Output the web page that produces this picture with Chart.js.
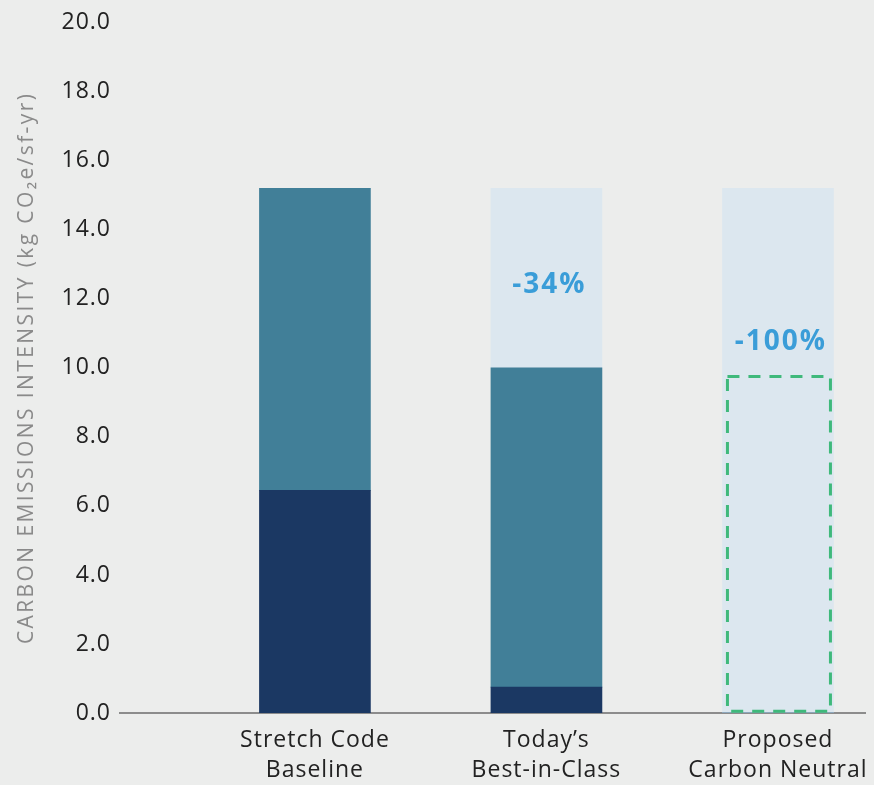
<!DOCTYPE html>
<html>
<head>
<meta charset="utf-8">
<script src="https://cdn.jsdelivr.net/npm/chart.js@4/dist/chart.umd.min.js"></script>
<style>
  html, body { margin: 0; padding: 0; background: #ecedec; overflow: hidden; }
  #wrap { width: 874px; height: 785px; }
</style>
</head>
<body>
<div id="wrap"><canvas id="chart"></canvas></div>
<script>
const categories = [['Stretch Code', 'Baseline'], ['Today\u2019s', 'Best-in-Class'], ['Proposed', 'Carbon Neutral']]
const positions = [1, 2, 3]
const embodied = [6.45, 0.75, 0]
const operational = [8.75, 9.25, 0]
const reduction = [0, 5.2, 15.2]
const targetTop = [null, null, 9.75]
const targetBase = [null, null, 0.05]
const pctLabels = ['', '-34%', '-100%']
const pctLabelY = [null, 12.4, 10.75]
const yTicks = [0, 2, 4, 6, 8, 10, 12, 14, 16, 18, 20]

function points(values) {
    let pts = []
    for (let i = 0; i < positions.length; i++) {
        pts.push({x: positions[i], y: values[i]})
    }
    return pts
}

// the original font is wider than anything installed, so space the letters a bit
const spacing = {
    id: 'spacing',
    beforeDraw(chart) {
        chart.ctx.letterSpacing = '1px'
    },
    afterLayout(chart) {
        const s = chart.scales.y
        if (s && !s._spaced) {
            const orig = s.drawTitle.bind(s)
            s.drawTitle = function () {
                chart.ctx.save()
                chart.ctx.letterSpacing = '2.4px'
                orig()
                chart.ctx.restore()
            }
            s._spaced = true
        }
    },
    afterDraw(chart) {
        chart.ctx.letterSpacing = '0px'
    }
}

const overlay = {
    id: 'overlay',
    afterDatasetsDraw(chart) {
        const ctx = chart.ctx
        const y = chart.scales.y
        const bars = chart.getDatasetMeta(2).data
        ctx.save()
        // dashed target outline
        for (let i = 0; i < bars.length; i++) {
            if (targetTop[i] == null) continue
            const b = bars[i]
            const left = b.x - b.width / 2 + 5
            const right = b.x + b.width / 2 - 3
            const top = y.getPixelForValue(targetTop[i])
            const bottom = y.getPixelForValue(targetBase[i])
            ctx.strokeStyle = '#3fb97b'
            ctx.lineWidth = 3
            ctx.setLineDash([12, 9])
            ctx.strokeRect(left, top, right - left, bottom - top)
        }
        ctx.setLineDash([])
        // percent labels
        ctx.fillStyle = '#3a9dd8'
        ctx.font = 'bold 28px "Open Sans"'
        ctx.letterSpacing = '2px'
        ctx.textAlign = 'center'
        ctx.textBaseline = 'middle'
        for (let i = 0; i < bars.length; i++) {
            if (!pctLabels[i]) continue
            ctx.fillText(pctLabels[i], bars[i].x + 3, y.getPixelForValue(pctLabelY[i]))
        }
        ctx.restore()
    }
}

new Chart(document.getElementById('chart'), {
    type: 'bar',
    data: {
        datasets: [
            {label: 'Embodied', data: points(embodied), backgroundColor: '#1b3863'},
            {label: 'Operational', data: points(operational), backgroundColor: '#417f98'},
            {label: 'Reduction', data: points(reduction), backgroundColor: '#dce7ef'}
        ]
    },
    options: {
        responsive: true,
        maintainAspectRatio: false,
        animation: false,
        barThickness: 111,
        layout: {padding: {top: 8, right: 9, left: 0, bottom: 0}},
        plugins: {
            legend: {display: false},
            tooltip: {enabled: false}
        },
        scales: {
            x: {
                type: 'linear',
                stacked: true,
                offset: false,
                bounds: 'ticks',
                min: 0.158,
                max: 3.376,
                afterBuildTicks: (scale) => {
                    scale.ticks = positions.map(v => ({value: v}))
                },
                afterFit: (scale) => { scale.height = 72 },
                grid: {display: false, drawTicks: false},
                border: {display: true, color: '#8c8c8c', width: 2},
                ticks: {
                    autoSkip: false,
                    maxRotation: 0,
                    padding: 12,
                    color: '#222222',
                    font: {family: 'Open Sans', size: 23, lineHeight: 1.33},
                    callback: (v) => categories[positions.indexOf(v)] || ''
                }
            },
            y: {
                stacked: true,
                min: 0,
                max: 20,
                afterBuildTicks: (scale) => {
                    scale.ticks = yTicks.map(v => ({value: v}))
                },
                afterFit: (scale) => { scale.width = 120 },
                grid: {display: false, drawTicks: false},
                border: {display: false},
                ticks: {
                    padding: 9,
                    color: '#222222',
                    font: {family: 'Open Sans', size: 23},
                    callback: (v) => v.toFixed(1)
                },
                title: {
                    display: true,
                    text: 'CARBON EMISSIONS INTENSITY (kg CO\u2082e/sf-yr)',
                    color: '#8a8a8a',
                    font: {family: 'Open Sans', size: 21},
                    padding: {top: 14, bottom: 4}
                }
            }
        }
    },
    plugins: [spacing, overlay]
})
</script>
</body>
</html>
